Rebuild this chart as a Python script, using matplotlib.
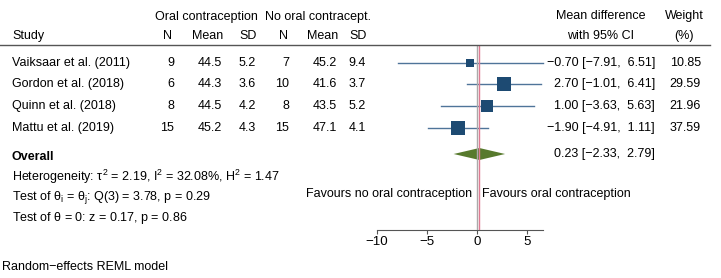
import matplotlib.pyplot as plt
import numpy as np

plt.rcParams['font.family'] = ['Liberation Sans', 'DejaVu Sans']
plt.rcParams['mathtext.fontset'] = 'custom'
plt.rcParams['mathtext.rm'] = 'Liberation Sans'
plt.rcParams['mathtext.it'] = 'Liberation Sans'

studies = ['Vaiksaar et al. (2011)', 'Gordon et al. (2018)', 'Quinn et al. (2018)', 'Mattu et al. (2019)']
n_oc = [9, 6, 8, 15]
mean_oc = [44.5, 44.3, 44.5, 45.2]
sd_oc = [5.2, 3.6, 4.2, 4.3]
n_no = [7, 10, 8, 15]
mean_no = [45.2, 41.6, 43.5, 47.1]
sd_no = [9.4, 3.7, 5.2, 4.1]
md = [-0.70, 2.70, 1.00, -1.90]
lo = [-7.91, -1.01, -3.63, -4.91]
hi = [6.51, 6.41, 5.63, 1.11]
weight = [10.85, 29.59, 21.96, 37.59]
overall = (0.23, -2.33, 2.79)
ticks = [-10, -5, 0, 5]

W, H = 721, 278
fig = plt.figure(figsize=(W / 100, H / 100), dpi=100)
fs = 9.0

# pixel helpers for text placement
def ftext(x, y, s, **kw):
    fig.text(x / W, 1 - y / H, s, fontsize=kw.pop('fontsize', fs), va='center', **kw)

# forest axes: x in mean-difference units, y in pixel rows from top
x0, x1 = 376.5, 542.5
ytop, ybot = 45, 230
ax = fig.add_axes([x0 / W, 1 - ybot / H, (x1 - x0) / W, (ybot - ytop) / H])
ax.set_xlim(-10, max(hi))
ax.set_ylim(ybot, ytop)
for sp in ['top', 'right', 'left']:
    ax.spines[sp].set_visible(False)
ax.spines['bottom'].set_color('#555555')
ax.spines['bottom'].set_linewidth(0.8)
ax.set_yticks([])
ax.set_xticks(ticks)
ax.set_xticklabels([f'\u2212{-t}' if t < 0 else str(t) for t in ticks])
ax.tick_params(axis='x', length=3, width=0.8, color='#555555', labelsize=fs + 0.6, pad=1.5)
ax.patch.set_visible(False)

row_y = [63, 84, 106, 128]
ov_y = 154

# CI lines and squares (side ~ sqrt(weight))
side_px = 8 * np.sqrt(np.array(weight) / weight[0])
for i in range(len(studies)):
    ax.plot([lo[i], hi[i]], [row_y[i], row_y[i]], color='#4f7499', lw=1.0, clip_on=False, zorder=2)
    ax.scatter(md[i], row_y[i], marker='s', s=(side_px[i] * 72 / 100) ** 2,
               color='#1d4a72', zorder=3, clip_on=False, linewidths=0)

# overall diamond
ax.fill([overall[1], overall[0], overall[2], overall[0]],
        [ov_y, ov_y - 6, ov_y, ov_y + 6], color='#577a2d', zorder=3, lw=0)

# reference lines
ax.axvline(0, color='#aaaaaa', lw=1.0, zorder=4)
ax.axvline(overall[0], color='#e07a92', lw=1.0, zorder=4)

# header rule
fig.add_artist(plt.Line2D([0 / W, 710 / W], [1 - 45 / H, 1 - 45 / H], color='#555555', lw=1.0))

# headers
ftext(206, 17, 'Oral contraception', ha='center')
ftext(318, 17, 'No oral contracept.', ha='center')
ftext(12, 36, 'Study', ha='left')
for x, s in [(168, 'N'), (208, 'Mean'), (248, 'SD'), (284, 'N'), (323, 'Mean'), (358, 'SD')]:
    ftext(x, 36, s, ha='center')
ftext(601, 16, 'Mean difference', ha='center')
ftext(601, 36, 'with 95% CI', ha='center')
ftext(684, 16, 'Weight', ha='center')
ftext(684, 36, '(%)', ha='center')

def fnum(v):
    return f'{v:.2f}'.replace('-', '\u2212')

for i, name in enumerate(studies):
    y = row_y[i]
    ftext(12, y, name, ha='left')
    ftext(174, y, str(n_oc[i]), ha='right')
    ftext(222, y, f'{mean_oc[i]:.1f}', ha='right')
    ftext(256, y, f'{sd_oc[i]:.1f}', ha='right')
    ftext(289, y, str(n_no[i]), ha='right')
    ftext(337, y, f'{mean_no[i]:.1f}', ha='right')
    ftext(366, y, f'{sd_no[i]:.1f}', ha='right')
    ftext(655, y, f'{fnum(md[i])} [{fnum(lo[i])},  {fnum(hi[i])}]', ha='right')
    ftext(701, y, f'{weight[i]:.2f}', ha='right')

ftext(12, 157, 'Overall', ha='left', fontweight='bold')
ftext(655, 154, f'{fnum(overall[0])} [{fnum(overall[1])},  {fnum(overall[2])}]', ha='right')
ftext(12, 177, r'Heterogeneity: $\tau^2$ = 2.19, I$^2$ = 32.08%, H$^2$ = 1.47', ha='left')
ftext(12, 197, r'Test of $\theta_i$ = $\theta_j$: Q(3) = 3.78, p = 0.29', ha='left')
ftext(12, 218, r'Test of $\theta$ = 0: z = 0.17, p = 0.86', ha='left')
ftext(472, 194, 'Favours no oral contraception', ha='right')
ftext(482, 194, 'Favours oral contraception', ha='left')
ftext(2, 267, 'Random\u2212effects REML model', ha='left')

fig.savefig('out.png', dpi=100)
